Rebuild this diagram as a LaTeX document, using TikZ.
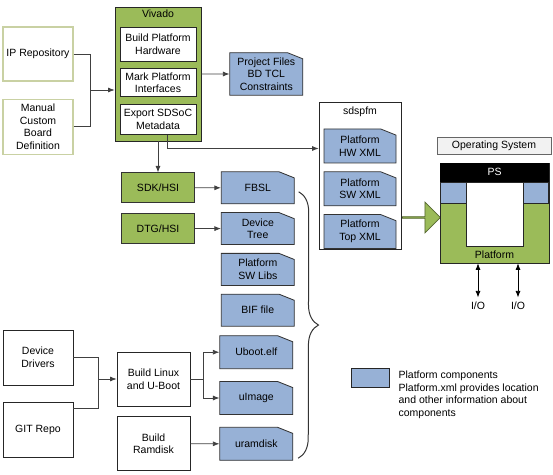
\documentclass[tikz,border=0pt]{standalone}
\usepackage{fontspec}
\setmainfont{Liberation Sans}
\usepackage{tikz}
\definecolor{platgreen}{HTML}{9BBB59}
\definecolor{partblue}{HTML}{97B1D6}
\definecolor{palegreen}{HTML}{C9D1A3}
\definecolor{osgray}{HTML}{F2F2F2}
\usetikzlibrary{arrows.meta, positioning, shapes, decorations.pathreplacing}
\tikzstyle{block} = [draw=black!85, fill=white, rectangle, align=center, minimum width=70pt, minimum height=55pt, line width=0.8pt]
\tikzstyle{source} = [block, draw=palegreen, line width=1.2pt]
\tikzstyle{inner} = [block, minimum width=76pt, minimum height=30pt, inner sep=2pt]
\tikzstyle{container} = [draw=black!85, fill=white, rectangle, line width=0.8pt]
\tikzstyle{tool} = [draw=black!80, fill=platgreen, rectangle, align=center, minimum width=73pt, minimum height=30pt, line width=0.8pt]
\tikzstyle{part} = [draw=black!80, fill=partblue, chamfered rectangle, chamfered rectangle corners=north east,
    chamfered rectangle xsep=6pt, chamfered rectangle angle=68.2, align=center, minimum width=73pt,
    minimum height=32pt, inner sep=1pt, line width=0.8pt]
\tikzstyle{bigarrow} = [single arrow, draw=platgreen!55!black, fill=platgreen, minimum height=38pt,
    minimum width=31pt, single arrow head extend=7pt, inner sep=0pt, line width=0.8pt]
\tikzstyle{arrow} = [arrows=->, black!75, line width=0.7pt]
\tikzstyle{line} = [-, black!75, line width=0.7pt]
\tikzstyle{iolink} = [arrows=<->, black, line width=0.7pt, shorten <=3pt]
\tikzstyle{brace} = [decorate, decoration={brace, amplitude=20pt}, black!80, line width=1pt]

\begin{document}
\begin{tikzpicture}[auto, >={Latex[length=6.5pt, width=5pt]}, x=1pt, y=1pt]
    \fontsize{10.5pt}{12.7pt}\selectfont
    \useasboundingbox (0,0) rectangle (553,474);

    % Place the blocks
    \node [source, minimum height=54pt] (ip) at (38,420) {IP Repository};
    \node [source, below=17pt of ip] (manual) {Manual\\Custom\\Board\\Definition};
    \node [container, fill=platgreen, minimum width=86pt, minimum height=134pt] (vivado) at (158,400) {};
    \node [below=0pt of vivado.north] (vivlabel) {Vivado};
    \node [inner, below=20pt of vivado.north, minimum height=34pt] (buildhw) {Build Platform\\Hardware};
    \node [inner, below=7pt of buildhw, minimum height=28pt] (markpi) {Mark Platform\\Interfaces};
    \node [inner, below=7pt of markpi] (export) {Export SDSoC\\Metadata};
    \node [part, right=28pt of vivado, minimum height=41pt] (proj) {Project Files\\BD TCL\\Constraints};
    \node [tool, below=31pt of vivado] (sdk) {SDK/HSI};
    \node [tool, below=10pt of sdk] (dtg) {DTG/HSI};
    \node [part, right=26pt of sdk] (fbsl) {FBSL};
    \node [part, below=8pt of fbsl] (devtree) {Device\\Tree};
    \node [part, below=8pt of devtree] (swlibs) {Platform\\SW Libs};
    \node [part, below=8pt of swlibs] (bif) {BIF file};

    \node [block] (devdrv) at (38,116.5) {Device\\Drivers};
    \node [block, below=17pt of devdrv] (gitrepo) {GIT Repo};
    \node [block, minimum width=73pt, minimum height=54pt] (buildlinux) at (153.5,95) {Build Linux\\and U-Boot};
    \node [block, minimum width=73pt, minimum height=54pt, below=10pt of buildlinux] (ramdisk) {Build\\Ramdisk};
    \node [part, right=29pt of ramdisk, minimum height=33pt] (uramdisk) {uramdisk};
    \node [part, above=12pt of uramdisk, minimum height=33pt] (uimage) {uImage};
    \node [part, above=12pt of uimage, minimum height=33pt] (uboot) {Uboot.elf};

    \node [container, minimum width=82pt, minimum height=147pt] (sdspfm) at (360,298.5) {};
    \node [below=2pt of sdspfm.north] (sdslabel) {sdspfm};
    \node [part, below=27pt of sdspfm.north, minimum width=72pt, minimum height=34pt] (hwxml) {Platform\\HW XML};
    \node [part, below=8pt of hwxml, minimum width=72pt, minimum height=34pt] (swxml) {Platform\\SW XML};
    \node [part, below=8pt of swxml, minimum width=72pt, minimum height=34pt] (topxml) {Platform\\Top XML};
    \node [bigarrow] (feed) at (421,256.5) {};

    \node [container, draw=black!60, fill=osgray, minimum width=114pt, minimum height=17pt] (os) at (494,328.5) {Operating System};
    \node [container, fill=platgreen, minimum width=109pt, minimum height=100pt] (plat) at (494.5,261) {};
    \node [fill=black, text=white, minimum width=109pt, minimum height=19pt, below=0pt of plat.north] (ps) {PS};
    \node [container, fill=partblue, minimum width=26pt, minimum height=21pt, anchor=north west] (psleft) at (ps.south west) {};
    \node [container, fill=partblue, minimum width=26pt, minimum height=21pt, anchor=north east] (psright) at (ps.south east) {};
    \node [container, minimum width=57pt, minimum height=64pt, below=0pt of ps] (hole) {};
    \node [above=1pt of plat.south] (platlabel) {Platform};
    \node [inner sep=1pt, below=37pt of plat.south, xshift=-16.5pt] (io1) {I/O};
    \node [inner sep=1pt, below=37pt of plat.south, xshift=23.5pt] (io2) {I/O};

    \node [container, fill=partblue, minimum width=38pt, minimum height=19pt] (legend) at (370,96.5) {};
    \node [right=9pt of legend.north east, anchor=north west, yshift=-3pt, align=left, inner sep=0pt] (legendtext)
        {Platform components\\Platform.xml provides location\\and other information about\\components};

    % Connect the nodes
    \coordinate [left=24pt of vivado.west, yshift=-16pt] (srcjoin);
    \draw [line] (ip.east) -| (srcjoin);
    \draw [line] (manual.east) -| (srcjoin);
    \draw [arrow] (srcjoin) -- (srcjoin -| vivado.west);
    \draw [arrow] (vivado) -- (proj);
    \draw [arrow] ([xshift=9pt]export.south) |- ([yshift=27pt]sdspfm.west);
    \draw [arrow] (vivado) -- (sdk);
    \draw [arrow] (sdk) -- (fbsl);
    \draw [arrow] (dtg) -- (devtree);
    \coordinate [left=18pt of buildlinux.west] (drvjoin);
    \draw [line] (devdrv.east) -| (drvjoin);
    \draw [line] ([yshift=22pt]gitrepo.east) -| (drvjoin);
    \draw [arrow] (drvjoin) -- (buildlinux);
    \coordinate [right=13pt of buildlinux.east] (imgjoin);
    \draw [line] (buildlinux) -- (imgjoin);
    \draw [arrow] (imgjoin) |- (uboot);
    \draw [arrow] (imgjoin) |- (uimage);
    \draw [arrow] (ramdisk) -- (uramdisk);
    \draw [brace] ([xshift=4pt, yshift=-4pt]fbsl.east) -- ([xshift=5pt, yshift=2.5pt]uramdisk.south east);
    \draw [iolink] (io1) -- (io1 |- plat.south);
    \draw [iolink] (io2) -- (io2 |- plat.south);
\end{tikzpicture}
\end{document}
